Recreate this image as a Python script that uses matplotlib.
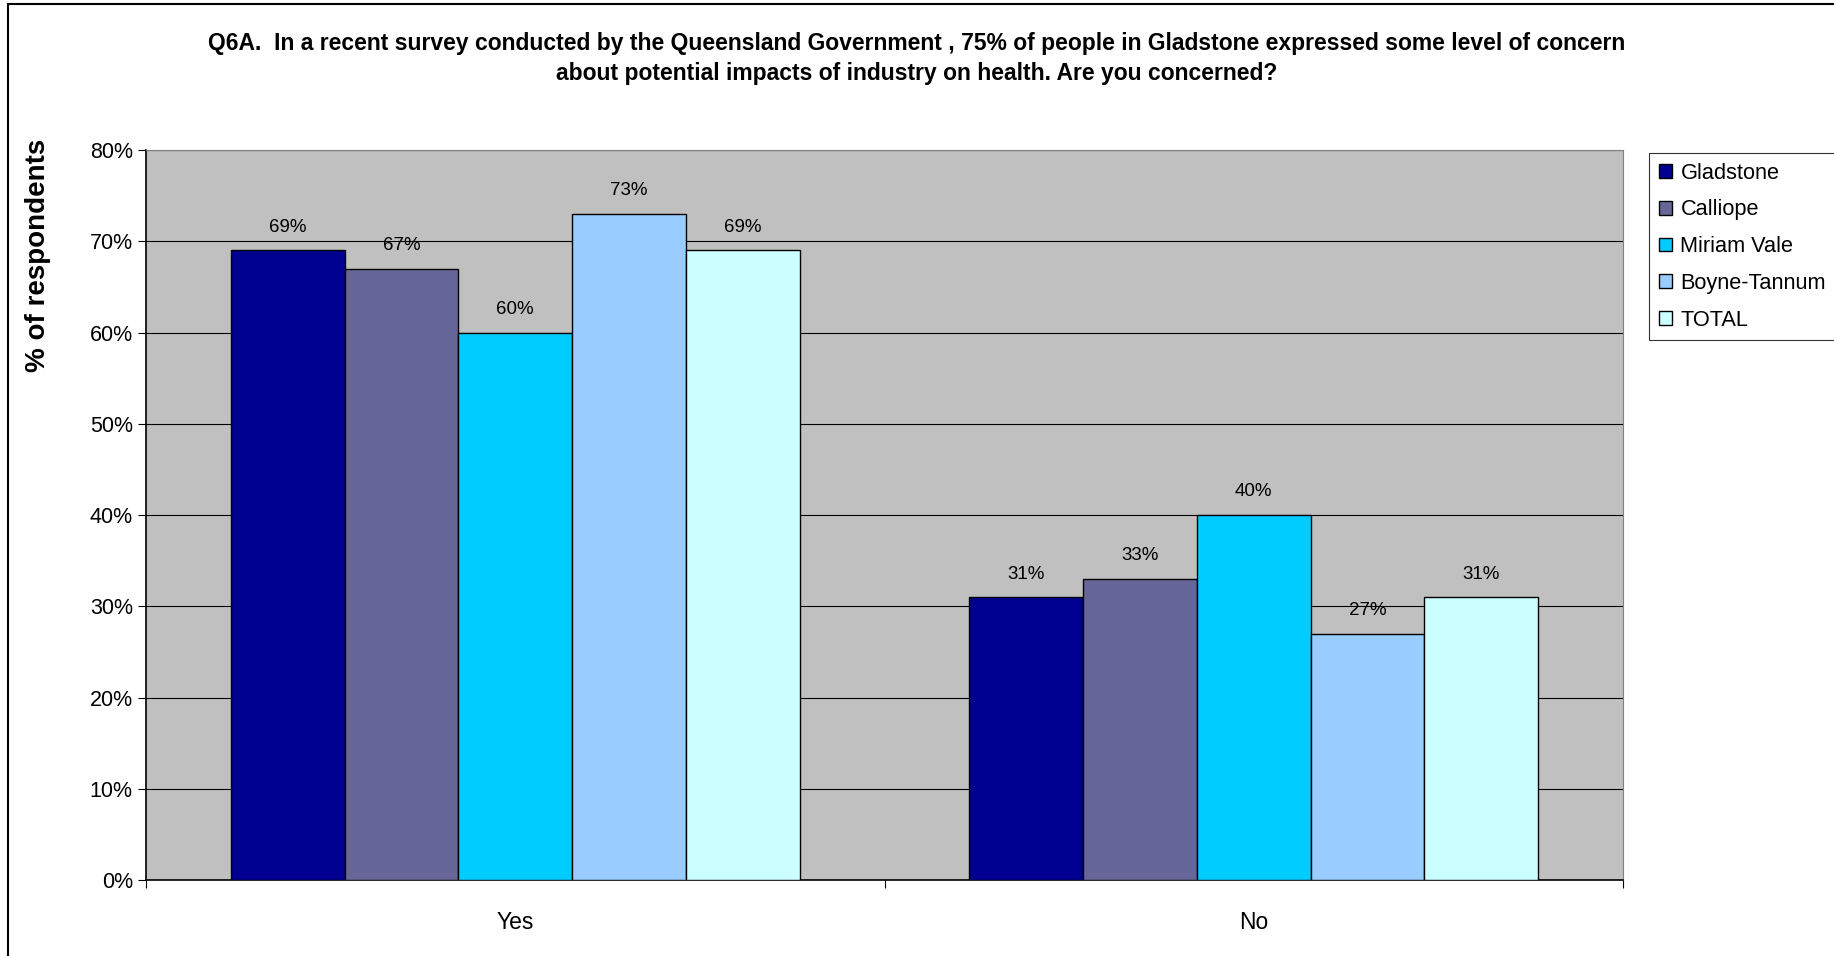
import numpy as np
import matplotlib
matplotlib.use("Agg")
import matplotlib.pyplot as plt
from matplotlib.patches import Rectangle

plt.rcParams['font.family'] = ['Liberation Sans', 'DejaVu Sans']

# Data
categories = ['Yes', 'No']
regions = ['Gladstone', 'Calliope', 'Miriam Vale', 'Boyne-Tannum', 'TOTAL']
values = {
    'Gladstone': [69, 31],
    'Calliope': [67, 33],
    'Miriam Vale': [60, 40],
    'Boyne-Tannum': [73, 27],
    'TOTAL': [69, 31],
}
colors = ['#000090', '#666699', '#00CCFF', '#99CCFF', '#CCFFFF']
yticks = [0, 10, 20, 30, 40, 50, 60, 70, 80]

title = ("Q6A.  In a recent survey conducted by the Queensland Government , 75% of people in Gladstone expressed some level of concern\n"
         "about potential impacts of industry on health. Are you concerned?")

fig = plt.figure(figsize=(18.34, 9.56), dpi=100)
ax = fig.add_axes([0.0796, 0.0795, 0.8054, 0.7635])
ax.set_facecolor('#C0C0C0')

x = np.arange(len(categories))
width = 0.154
n = len(regions)
for i, (reg, col) in enumerate(zip(regions, colors)):
    offs = (i - (n - 1) / 2) * width
    bars = ax.bar(x + offs, values[reg], width, color=col, edgecolor='black',
                  linewidth=1, label=reg, zorder=3)
    for b, v in zip(bars, values[reg]):
        ax.text(b.get_x() + b.get_width() / 2, v + 1.6, f'{v}%',
                ha='center', va='bottom', fontsize=13.5)

ax.set_xlim(-0.5, 1.5)
ax.set_ylim(0, 80)
ax.set_yticks(yticks)
ax.set_yticklabels([f'{t}%' for t in yticks], fontsize=15.5)
ax.yaxis.grid(True, color='black', linewidth=0.8, zorder=0)
ax.set_axisbelow(True)

# category ticks at boundaries, labels centered
ax.set_xticks([-0.5, 0.5, 1.5])
ax.set_xticklabels([])
ax.set_xticks(x, minor=True)
ax.set_xticklabels(categories, minor=True, fontsize=16.5)
ax.tick_params(axis='x', which='minor', length=0, pad=22)
ax.tick_params(axis='x', which='major', length=6, direction='out')
ax.tick_params(axis='y', length=6, direction='out')

for s in ['top', 'right']:
    ax.spines[s].set_color('#808080')
for s in ['left', 'bottom']:
    ax.spines[s].set_color('black')
    ax.spines[s].set_linewidth(1.2)

ax.set_ylabel('% of respondents', fontsize=20, fontweight='bold')
ax.yaxis.set_label_coords(-0.064, 0.856)

fig.text(0.5, 0.9385, title, ha='center', va='center', fontsize=16.5,
         fontweight='bold', linespacing=1.4)

leg = fig.legend(loc='upper left', bbox_to_anchor=(0.899, 0.84), fontsize=15.7,
                 frameon=True, fancybox=False, edgecolor='black',
                 handlelength=0.6, handleheight=0.6, handletextpad=0.4,
                 labelspacing=0.72, borderpad=0.45, borderaxespad=0)
leg.get_frame().set_linewidth(0.8)

# outer chart border
fig.patches.append(Rectangle((0.0045, -0.01), 1.1, 1.006, transform=fig.transFigure,
                             fill=False, edgecolor='black', linewidth=1.5))

fig.savefig('out.png', dpi=100)
